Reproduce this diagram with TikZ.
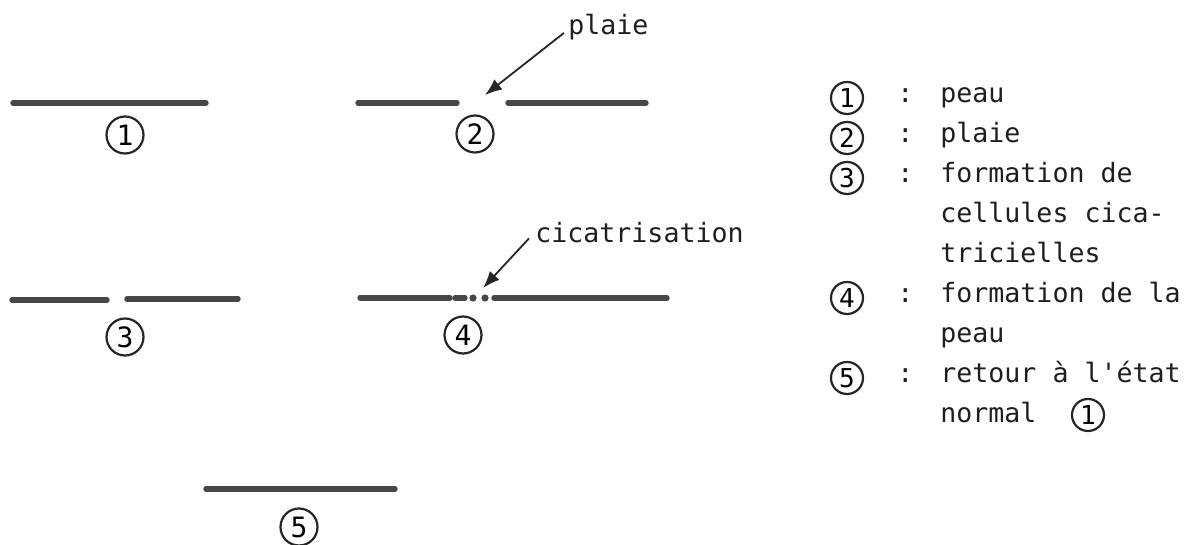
\documentclass[tikz,border=0pt]{standalone}
\usepackage{fontspec}
\setmonofont{DejaVu Sans Mono}
\usetikzlibrary{arrows.meta}
\tikzset{
	skin/.style={line width=2.7pt, draw=black!72, line cap=round},
	stage/.style={circle, draw=black!85, line width=1.1pt, minimum size=18.5pt, inner sep=0pt,
			font=\ttfamily\fontsize{14}{14}\selectfont},
	key/.style={stage, minimum size=16pt, font=\ttfamily\fontsize{13}{13}\selectfont},
	note/.style={anchor=mid west, inner sep=0pt, text=black!88,
			font=\ttfamily\fontsize{13.3}{16}\selectfont},
	pointer/.style={-{Latex[length=8.5pt,width=6.5pt]}, line width=0.9pt, draw=black!85}
}

\begin{document}
\begin{tikzpicture}[x=0.5pt,y=-0.5pt]
        \useasboundingbox (0,0) rectangle (1184,545);

        % Skin lines
        \draw[skin] (13,103) -- (206,103);
        \draw[skin] (358,103) -- (457,103);
        \draw[skin] (508,103) -- (646,103);
        \draw[skin] (12,300) -- (107,300);
        \draw[skin] (127,299) -- (238,299);
        \draw[skin] (360,298) -- (450,298);
        \draw[skin] (455,298) -- (465,298);
        \fill[black!72] (473,298) circle (1.8pt) (485,298) circle (1.8pt);
        \draw[skin] (494,298) -- (667,298);
        \draw[skin] (206,489) -- (395,489);

        % Stage numbers
        \foreach \n/\x/\y in {1/125/135, 2/475/134, 3/125/337, 4/463/335, 5/299/527} {
            \node[stage] (s\n) at (\x,\y) {\n};
        }

        % Pointers
        \node[note] (plaie) at (568,30) {plaie};
        \coordinate (wound) at (485,95);
        \draw[pointer] ([shift={(-2pt,-3pt)}]plaie.west) -- (wound);

        \node[note] (cicatr) at (535,238) {cicatrisation};
        \coordinate (scar) at (483,288);
        \draw[pointer] ([shift={(-3pt,-3pt)}]cicatr.west) -- (scar);

        % Legend
        \foreach \n/\y in {1/98, 2/138, 3/178, 4/298, 5/378} {
            \node[key] (k\n) at (847,\y) {\n};
            \node[note] (c\n) at (897,\y) {:};
        }
        \node[note] (t1) at (940,98) {peau};
        \node[note] (t2) at (940,138) {plaie};
        \node[note] (t3a) at (940,178) {formation de};
        \node[note] (t3b) at (940,218) {cellules cica-};
        \node[note] (t3c) at (940,258) {tricielles};
        \node[note] (t4a) at (940,298) {formation de la};
        \node[note] (t4b) at (940,338) {peau};
        \node[note] (t5a) at (940,378) {retour à l'état};
        \node[note] (t5b) at (940,418) {normal};
        \node[key] (k6) at (1088,415) {1};

    \end{tikzpicture}
\end{document}
